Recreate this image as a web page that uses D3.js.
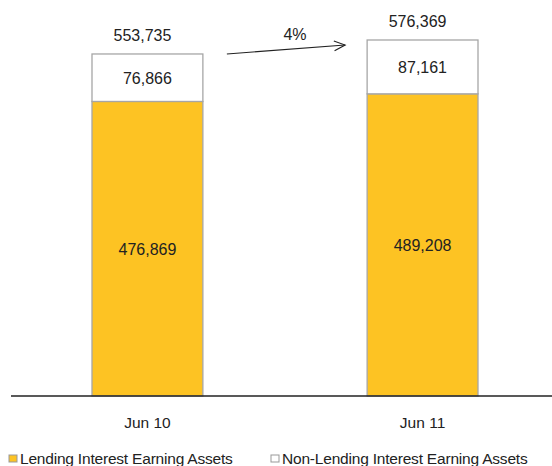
<!DOCTYPE html>
<html lang="en">
<head>
<meta charset="utf-8">
<title>Interest Earning Assets</title>
<script src="https://d3js.org/d3.v7.min.js"></script>
<style>
  body { margin: 0; background: #fff; }
  text { font-family: "Liberation Sans", Arial, sans-serif; fill: #222; }
</style>
</head>
<body>
<div id="chart"></div>
<script>
var width = 552, height = 466;

var periods = ["Jun 10", "Jun 11"];
var lending = [476869, 489208];
var nonLending = [76866, 87161];
var totals = [553735, 576369];
var growthLabel = "4%";
var seriesNames = ["Lending Interest Earning Assets", "Non-Lending Interest Earning Assets"];
var seriesColors = ["#fdc323", "#ffffff"];

var baseY = 396, topY = 40;

var svg = d3.select("#chart").append("svg")
  .attr("width", width).attr("height", height);

var x = d3.scaleBand().domain(periods).range([92, 478]).paddingInner(0.597).paddingOuter(0);
var y = d3.scaleLinear().domain([0, totals[1]]).range([baseY, topY]);

var data = periods.map(function(p, i) {
  return { period: p, lending: lending[i], nonLending: nonLending[i], total: totals[i] };
});

var stack = d3.stack().keys(["lending", "nonLending"])(data);

var g = svg.append("g");
g.selectAll("g.series")
  .data(stack).enter().append("g")
  .attr("class", "series")
  .attr("fill", function(d, i) { return seriesColors[i]; })
  .selectAll("rect")
  .data(function(d) { return d; })
  .enter().append("rect")
  .attr("x", function(d) { return x(d.data.period); })
  .attr("width", x.bandwidth())
  .attr("y", function(d) { return y(d[1]); })
  .attr("height", function(d) { return y(d[0]) - y(d[1]); })
  .attr("stroke", "#a6a6a6")
  .attr("stroke-width", 1.3);

// segment labels
stack.forEach(function(s) {
  g.selectAll(null).data(s).enter().append("text")
    .attr("x", function(d) { return x(d.data.period) + x.bandwidth() / 2; })
    .attr("y", function(d) { return (y(d[0]) + y(d[1])) / 2 + 6; })
    .attr("text-anchor", "middle")
    .attr("font-size", 16)
    .text(function(d) { return d3.format(",")(d[1] - d[0]); });
});

// totals
g.selectAll("text.total").data(data).enter().append("text")
  .attr("class", "total")
  .attr("x", function(d) { return x(d.period) + x.bandwidth() / 2 - 5; })
  .attr("y", function(d) { return y(d.total) - 13; })
  .attr("text-anchor", "middle")
  .attr("font-size", 16)
  .text(function(d) { return d3.format(",")(d.total); });

// axis line
svg.append("line")
  .attr("x1", 11).attr("x2", width)
  .attr("y1", baseY).attr("y2", baseY)
  .attr("stroke", "#222").attr("stroke-width", 1.6);

// category labels
svg.selectAll("text.cat").data(periods).enter().append("text")
  .attr("class", "cat")
  .attr("x", function(d) { return x(d) + x.bandwidth() / 2; })
  .attr("y", baseY + 32)
  .attr("text-anchor", "middle")
  .attr("font-size", 15.5)
  .text(function(d) { return d; });

// growth arrow
var ax1 = x(periods[0]) + x.bandwidth() + 24, ay1 = y(totals[0]);
var ax2 = x(periods[1]) - 22, ay2 = y(totals[1]) + 5;
svg.append("line")
  .attr("x1", ax1).attr("y1", ay1).attr("x2", ax2).attr("y2", ay2)
  .attr("stroke", "#222").attr("stroke-width", 1.1);
var ang = Math.atan2(ay2 - ay1, ax2 - ax1);
var hl = 12;
svg.append("path")
  .attr("d", "M" + (ax2 - hl * Math.cos(ang - 0.42)) + "," + (ay2 - hl * Math.sin(ang - 0.42)) +
    "L" + ax2 + "," + ay2 +
    "L" + (ax2 - hl * Math.cos(ang + 0.42)) + "," + (ay2 - hl * Math.sin(ang + 0.42)))
  .attr("fill", "none").attr("stroke", "#222").attr("stroke-width", 1.1);
svg.append("text")
  .attr("x", 295).attr("y", 40)
  .attr("text-anchor", "middle").attr("font-size", 16)
  .text(growthLabel);

// legend
var legendX = [9, 271];
var lg = svg.selectAll("g.legend").data(seriesNames).enter().append("g")
  .attr("class", "legend")
  .attr("transform", function(d, i) { return "translate(" + legendX[i] + ",455)"; });
lg.append("rect")
  .attr("width", 8).attr("height", 7)
  .attr("fill", function(d, i) { return seriesColors[i]; })
  .attr("stroke", "#999").attr("stroke-width", 1);
lg.append("text")
  .attr("x", 11).attr("y", 9)
  .attr("font-size", 15.5)
  .attr("letter-spacing", -0.2)
  .text(function(d) { return d; });
</script>
</body>
</html>
